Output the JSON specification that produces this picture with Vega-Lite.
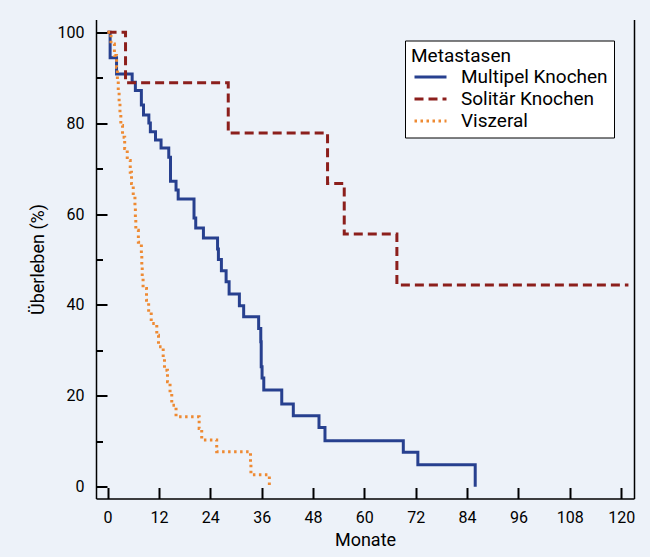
{
  "$schema": "https://vega.github.io/schema/vega-lite/v6.json",
  "width": 538,
  "height": 479,
  "autosize": {"type": "none"},
  "padding": {"left": 96, "top": 19.5, "right": 16, "bottom": 58.5},
  "background": "#edf2f9",
  "config": {
    "view": {"stroke": null},
    "font": "Roboto",
    "axis": {
      "grid": false,
      "domainColor": "black",
      "domainWidth": 1.5,
      "tickColor": "black",
      "tickWidth": 2,
      "labelColor": "black",
      "labelFontSize": 16,
      "labelFont": "Roboto",
      "titleFont": "Roboto",
      "titleFontSize": 18,
      "titleFontWeight": "normal",
      "titleColor": "black"
    },
    "legend": {
      "orient": "none",
      "legendX": 309,
      "legendY": 21,
      "fillColor": "white",
      "strokeColor": "black",
      "padding": 6,
      "symbolType": "M-0.8,0H2.4",
      "symbolSize": 400,
      "symbolStrokeWidth": 3,
      "labelFont": "Roboto",
      "titleFont": "Roboto",
      "labelFontSize": 19,
      "titleFontSize": 19,
      "titleFontWeight": "normal",
      "labelColor": "black",
      "titleColor": "black",
      "labelOffset": 27,
      "rowPadding": 0,
      "titlePadding": 0
    }
  },
  "data": {
    "values": [
      {"g": "Multipel Knochen", "m": 0, "s": 100},
      {"g": "Multipel Knochen", "m": 0.6, "s": 94.4},
      {"g": "Multipel Knochen", "m": 2.1, "s": 90.8},
      {"g": "Multipel Knochen", "m": 5.75, "s": 89.0},
      {"g": "Multipel Knochen", "m": 6.5, "s": 87.2},
      {"g": "Multipel Knochen", "m": 7.9, "s": 84.0},
      {"g": "Multipel Knochen", "m": 8.4, "s": 81.8},
      {"g": "Multipel Knochen", "m": 9.65, "s": 80.0},
      {"g": "Multipel Knochen", "m": 10.0, "s": 78.1},
      {"g": "Multipel Knochen", "m": 11.2, "s": 76.3},
      {"g": "Multipel Knochen", "m": 12.5, "s": 74.5},
      {"g": "Multipel Knochen", "m": 14.3, "s": 72.5},
      {"g": "Multipel Knochen", "m": 14.7, "s": 67.2},
      {"g": "Multipel Knochen", "m": 16.0, "s": 65.3},
      {"g": "Multipel Knochen", "m": 16.5, "s": 63.3},
      {"g": "Multipel Knochen", "m": 20.2, "s": 59.1},
      {"g": "Multipel Knochen", "m": 20.6, "s": 56.9},
      {"g": "Multipel Knochen", "m": 22.4, "s": 54.7},
      {"g": "Multipel Knochen", "m": 25.7, "s": 52.3},
      {"g": "Multipel Knochen", "m": 25.9, "s": 50.0},
      {"g": "Multipel Knochen", "m": 26.6, "s": 47.5},
      {"g": "Multipel Knochen", "m": 27.7, "s": 45.1},
      {"g": "Multipel Knochen", "m": 28.4, "s": 42.4},
      {"g": "Multipel Knochen", "m": 30.8, "s": 39.8},
      {"g": "Multipel Knochen", "m": 31.8, "s": 37.4},
      {"g": "Multipel Knochen", "m": 35.3, "s": 34.8},
      {"g": "Multipel Knochen", "m": 35.8, "s": 31.9},
      {"g": "Multipel Knochen", "m": 35.9, "s": 26.4},
      {"g": "Multipel Knochen", "m": 36.1, "s": 23.9},
      {"g": "Multipel Knochen", "m": 36.5, "s": 21.3},
      {"g": "Multipel Knochen", "m": 40.7, "s": 18.2},
      {"g": "Multipel Knochen", "m": 43.4, "s": 15.6},
      {"g": "Multipel Knochen", "m": 49.4, "s": 13.0},
      {"g": "Multipel Knochen", "m": 50.8, "s": 10.1},
      {"g": "Multipel Knochen", "m": 69.1, "s": 7.6},
      {"g": "Multipel Knochen", "m": 72.5, "s": 4.8},
      {"g": "Multipel Knochen", "m": 85.9, "s": 0},
      {"g": "Solitär Knochen", "m": 0, "s": 100},
      {"g": "Solitär Knochen", "m": 4.2, "s": 88.9},
      {"g": "Solitär Knochen", "m": 28.2, "s": 77.8},
      {"g": "Solitär Knochen", "m": 51.4, "s": 66.7},
      {"g": "Solitär Knochen", "m": 55.3, "s": 55.6},
      {"g": "Solitär Knochen", "m": 67.6, "s": 44.4},
      {"g": "Solitär Knochen", "m": 121.7, "s": 44.4},
      {"g": "Viszeral", "m": 0, "s": 100},
      {"g": "Viszeral", "m": 0.8, "s": 97.4},
      {"g": "Viszeral", "m": 1.6, "s": 94.9},
      {"g": "Viszeral", "m": 2.1, "s": 92.3},
      {"g": "Viszeral", "m": 2.3, "s": 89.7},
      {"g": "Viszeral", "m": 2.5, "s": 87.2},
      {"g": "Viszeral", "m": 2.7, "s": 84.6},
      {"g": "Viszeral", "m": 2.9, "s": 82.1},
      {"g": "Viszeral", "m": 3.1, "s": 79.5},
      {"g": "Viszeral", "m": 3.5, "s": 76.9},
      {"g": "Viszeral", "m": 4.0, "s": 74.4},
      {"g": "Viszeral", "m": 4.6, "s": 71.8},
      {"g": "Viszeral", "m": 5.3, "s": 69.2},
      {"g": "Viszeral", "m": 5.6, "s": 66.7},
      {"g": "Viszeral", "m": 6.0, "s": 64.1},
      {"g": "Viszeral", "m": 6.4, "s": 61.5},
      {"g": "Viszeral", "m": 6.5, "s": 59.0},
      {"g": "Viszeral", "m": 6.6, "s": 56.4},
      {"g": "Viszeral", "m": 7.2, "s": 53.8},
      {"g": "Viszeral", "m": 7.9, "s": 51.3},
      {"g": "Viszeral", "m": 8.0, "s": 48.7},
      {"g": "Viszeral", "m": 8.1, "s": 46.2},
      {"g": "Viszeral", "m": 8.3, "s": 43.6},
      {"g": "Viszeral", "m": 9.1, "s": 41.0},
      {"g": "Viszeral", "m": 9.6, "s": 38.5},
      {"g": "Viszeral", "m": 10.2, "s": 35.9},
      {"g": "Viszeral", "m": 11.5, "s": 33.3},
      {"g": "Viszeral", "m": 11.9, "s": 30.8},
      {"g": "Viszeral", "m": 13.0, "s": 28.2},
      {"g": "Viszeral", "m": 13.3, "s": 25.6},
      {"g": "Viszeral", "m": 14.0, "s": 23.1},
      {"g": "Viszeral", "m": 14.6, "s": 20.5},
      {"g": "Viszeral", "m": 15.0, "s": 17.9},
      {"g": "Viszeral", "m": 16.0, "s": 15.4},
      {"g": "Viszeral", "m": 21.4, "s": 12.8},
      {"g": "Viszeral", "m": 22.0, "s": 10.3},
      {"g": "Viszeral", "m": 25.5, "s": 7.7},
      {"g": "Viszeral", "m": 33.4, "s": 5.1},
      {"g": "Viszeral", "m": 33.5, "s": 2.6},
      {"g": "Viszeral", "m": 37.8, "s": 0}
    ]
  },
  "encoding": {
    "x": {
      "field": "m",
      "type": "quantitative",
      "scale": {"domain": [-2.7, 123], "nice": false, "zero": false},
      "axis": {
        "values": [0, 12, 24, 36, 48, 60, 72, 84, 96, 108, 120],
        "tickSize": -11,
        "labelPadding": 22,
        "title": "Monate",
        "titlePadding": 6
      }
    },
    "color": {
      "field": "g",
      "type": "nominal",
      "title": "Metastasen",
      "scale": {
        "domain": ["Multipel Knochen", "Solitär Knochen", "Viszeral"],
        "range": ["#27408f", "#8c1f1c", "#ee8a33"]
      }
    },
    "strokeDash": {
      "field": "g",
      "type": "nominal",
      "title": "Metastasen",
      "scale": {
        "domain": ["Multipel Knochen", "Solitär Knochen", "Viszeral"],
        "range": [[1, 0], [9, 5], [2.5, 3.5]]
      }
    }
  },
  "layer": [
    {
      "transform": [{"filter": "datum.g === 'Multipel Knochen'"}],
      "mark": {"type": "line", "interpolate": "step-after", "strokeWidth": 3},
      "encoding": {
        "y": {
          "field": "s",
          "type": "quantitative",
          "scale": {"domain": [-2.6, 102.8], "nice": false, "zero": false},
          "axis": {
            "orient": "left",
            "values": [0, 20, 40, 60, 80, 100],
            "tickSize": -11,
            "labelPadding": 23,
            "title": "Überleben (%)",
            "titlePadding": 10
          }
        }
      }
    },
    {
      "transform": [{"filter": "datum.g === 'Solitär Knochen'"}],
      "mark": {"type": "line", "interpolate": "step-after", "strokeWidth": 3},
      "encoding": {
        "y": {
          "field": "s",
          "type": "quantitative",
          "scale": {"domain": [-2.6, 102.8], "nice": false, "zero": false},
          "axis": {
            "orient": "left",
            "values": [10, 30, 50, 70, 90],
            "tickSize": -6.5,
            "labels": false,
            "domain": false,
            "title": null
          }
        }
      }
    },
    {
      "transform": [{"filter": "datum.g === 'Viszeral'"}],
      "mark": {"type": "line", "interpolate": "step-after", "strokeWidth": 3},
      "encoding": {
        "y": {
          "field": "s",
          "type": "quantitative",
          "scale": {"domain": [-2.6, 102.8], "nice": false, "zero": false},
          "axis": {
            "orient": "right",
            "ticks": false,
            "labels": false,
            "domain": true,
            "title": null
          }
        }
      }
    }
  ],
  "resolve": {"axis": {"y": "independent"}}
}
